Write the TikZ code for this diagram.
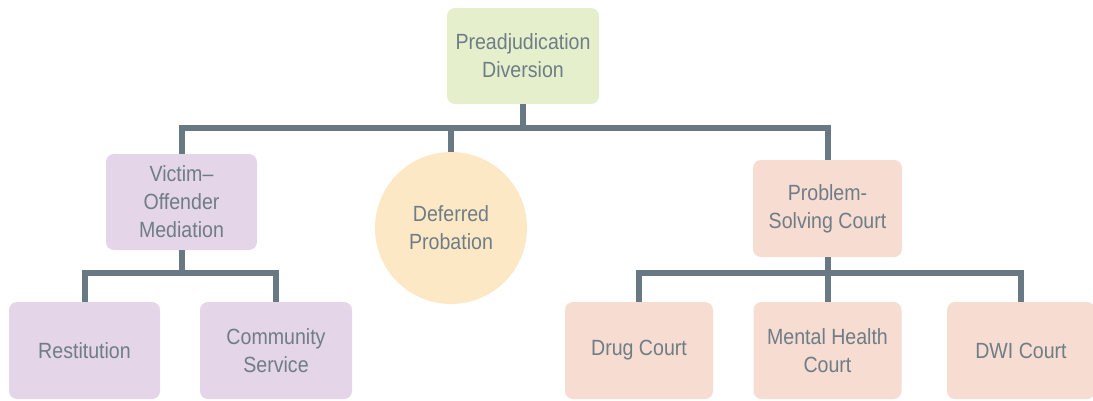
\documentclass[tikz,border=0pt]{standalone}
\usepackage{fontspec}
\setmainfont[FakeStretch=0.89]{Liberation Sans}
\usetikzlibrary{calc}
\usetikzlibrary{positioning}

\definecolor{linkgray}{RGB}{104,121,131}
\definecolor{textgray}{RGB}{110,125,134}
\definecolor{leafgreen}{RGB}{229,239,204}
\definecolor{lavender}{RGB}{228,213,232}
\definecolor{sand}{RGB}{253,232,198}
\definecolor{peach}{RGB}{246,220,209}

\begin{document}
\begin{tikzpicture}[x=1pt, y=-1pt,
    card/.style={rectangle, rounded corners=8pt, inner sep=0pt, align=center,
        text=textgray, font=\fontsize{22}{28}\selectfont,
        minimum width=150pt, minimum height=97pt},
    link/.style={draw=linkgray, line width=6pt}]
    \useasboundingbox (0,0) rectangle (1093,400);

    \coordinate (topbus) at (523,128);
    \coordinate (vombus) at (181.5,273);
    \coordinate (pscbus) at (827.5,273);

    \node[card, fill=leafgreen, minimum width=152pt, minimum height=96pt] (diversion) at (523,56) {Preadjudication\\Diversion};

    \node[card, fill=lavender, minimum width=151pt, minimum height=96pt] (mediation) at (181.5,202) {Victim--\\Offender\\Mediation};
    \node[circle, inner sep=0pt, minimum size=152pt, align=center, fill=sand,
        text=textgray, font=\fontsize{22}{28}\selectfont] (probation) at (451,228) {Deferred\\Probation};
    \node[card, fill=peach, minimum width=149pt] (psc) at (827.5,208.5) {Problem-\\Solving Court};

    \node[card, fill=lavender, minimum width=151pt] (restitution) at (84.5,350.5) {Restitution};
    \node[card, fill=lavender, minimum width=152pt] (service) at (276,350.5) {Community\\Service};

    \node[card, fill=peach, minimum width=148pt] (drug) at (639,350.5) {Drug Court};
    \node[card, fill=peach, minimum width=148pt] (mental) at (827.5,350.5) {Mental Health\\Court};
    \node[card, fill=peach, minimum width=148pt] (dwi) at (1021,350.5) {DWI Court};

    \draw[link] (diversion.south) -- (topbus);
    \draw[link] (mediation.north) |- (topbus) -| (psc.north);
    \draw[link] (probation.north) -- (probation.north |- topbus);

    \draw[link] (mediation.south) -- (vombus);
    \draw[link] (restitution.north) |- (vombus) -| (service.north);

    \draw[link] (psc.south) -- (pscbus);
    \draw[link] (drug.north) |- (pscbus) -| (dwi.north);
    \draw[link] (mental.north) -- (pscbus);
\end{tikzpicture}
\end{document}
